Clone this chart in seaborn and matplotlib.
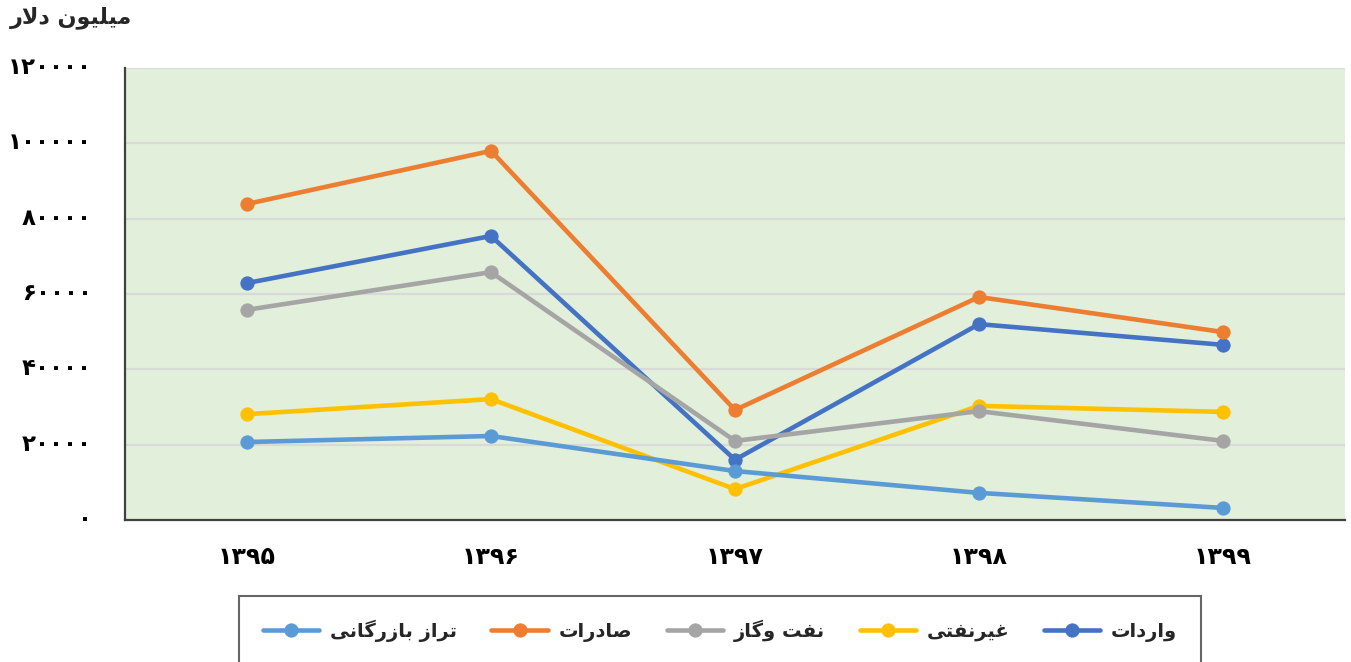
import matplotlib
matplotlib.use("Agg")
import matplotlib.pyplot as plt
import matplotlib.transforms as mtransforms
import seaborn as sns
import pandas as pd

# ---- data (million dollars) ----
years = ["1395", "1396", "1397", "1398", "1399"]
imports_vals = [62900, 75400, 16000, 52000, 46500]        # واردات
non_oil_vals = [28100, 32100, 8200, 30300, 28700]          # غیرنفتی
oil_gas_vals = [55800, 65800, 21000, 28900, 21000]         # نفت وگاز
exports_vals = [83900, 98000, 29200, 59200, 49900]         # صادرات
balance_vals = [20700, 22300, 13000, 7200, 3200]           # تراز بازرگانی

series_names = ["واردات", "غیرنفتی", "نفت وگاز", "صادرات", "تراز بازرگانی"]
series_colors = ["#4472C4", "#FFC000", "#A5A5A5", "#ED7D31", "#5B9BD5"]
y_ticks = [0, 20000, 40000, 60000, 80000, 100000, 120000]
y_title = "میلیون دلار"

# ---- minimal Arabic-script shaping (contextual forms + RTL order) ----
_FORMS = {
    "ا": ("\uFE8D", "\uFE8E", None, None),
    "ب": ("\uFE8F", "\uFE90", "\uFE91", "\uFE92"),
    "ت": ("\uFE95", "\uFE96", "\uFE97", "\uFE98"),
    "د": ("\uFEA9", "\uFEAA", None, None),
    "ر": ("\uFEAD", "\uFEAE", None, None),
    "ز": ("\uFEAF", "\uFEB0", None, None),
    "ص": ("\uFEB9", "\uFEBA", "\uFEBB", "\uFEBC"),
    "غ": ("\uFECD", "\uFECE", "\uFECF", "\uFED0"),
    "ف": ("\uFED1", "\uFED2", "\uFED3", "\uFED4"),
    "ل": ("\uFEDD", "\uFEDE", "\uFEDF", "\uFEE0"),
    "م": ("\uFEE1", "\uFEE2", "\uFEE3", "\uFEE4"),
    "ن": ("\uFEE5", "\uFEE6", "\uFEE7", "\uFEE8"),
    "و": ("\uFEED", "\uFEEE", None, None),
    "ی": ("\uFBFC", "\uFBFD", "\uFBFE", "\uFBFF"),
    "گ": ("\uFB92", "\uFB93", "\uFB94", "\uFB95"),
}


def _joins_left(ch):
    return ch in _FORMS and _FORMS[ch][2] is not None


def shape(text):
    out = []
    i = 0
    n = len(text)
    while i < n:
        c = text[i]
        if c not in _FORMS:
            out.append(c)
            i += 1
            continue
        prev = text[i - 1] if i > 0 else None
        nxt = text[i + 1] if i + 1 < n else None
        jp = prev is not None and _joins_left(prev)
        if c == "ل" and nxt == "ا":
            out.append("\uFEFC" if jp else "\uFEFB")
            i += 2
            continue
        jn = _joins_left(c) and nxt in _FORMS
        iso, fin, ini, med = _FORMS[c]
        if jp and jn:
            out.append(med)
        elif jp:
            out.append(fin)
        elif jn:
            out.append(ini)
        else:
            out.append(iso)
        i += 1
    return "".join(reversed(out))


_FA_DIGITS = str.maketrans("0123456789", "۰۱۲۳۴۵۶۷۸۹")


def fa_num(v):
    return str(v).translate(_FA_DIGITS)


# ---- long-form table ----
values = [imports_vals, non_oil_vals, oil_gas_vals, exports_vals, balance_vals]
rows = []
for name, vals in zip(series_names, values):
    for k, v in enumerate(vals):
        rows.append({"pos": k, "series": name, "value": v})
df = pd.DataFrame(rows)

sns.set_theme(style="white")
plt.rcParams["font.family"] = ["DejaVu Sans"]
plt.rcParams["font.weight"] = "bold"

fig = plt.figure(figsize=(13.51, 6.62), dpi=100)
ax = fig.add_axes([125 / 1351, 142 / 662, 1220 / 1351, 452 / 662])
ax.set_facecolor("#E2EFDA")

handles = {}
for name, color in zip(series_names, series_colors):
    sub = df[df["series"] == name]
    sns.lineplot(data=sub, x="pos", y="value", ax=ax, color=color,
                 linewidth=3.3, marker="o", markersize=9.5,
                 markeredgecolor=color, label=shape(name), legend=False)
    handles[name] = ax.lines[-1]

ax.set_xlim(-0.5, len(years) - 0.5)
ax.set_ylim(0, 120000)
ax.set_xticks(range(len(years)))
ax.set_xticklabels([fa_num(y) for y in years], fontsize=17, fontweight="bold")
ax.set_yticks(y_ticks)
ax.set_yticklabels([fa_num(v) for v in y_ticks], fontsize=16.5, fontweight="bold")
ax.tick_params(axis="both", length=0, colors="black")
ax.tick_params(axis="x", pad=18)
ax.tick_params(axis="y", pad=24)
# nudge the value labels slightly upward
lift = mtransforms.ScaledTranslation(0, 3 / 100, fig.dpi_scale_trans)
for lbl in ax.get_yticklabels():
    lbl.set_transform(lbl.get_transform() + lift)
ax.set_xlabel("")
ax.set_ylabel("")
ax.grid(axis="y", color="#D9D9D9", linewidth=1.6)
ax.set_axisbelow(True)
for side in ["top", "right"]:
    ax.spines[side].set_visible(False)
for side in ["left", "bottom"]:
    ax.spines[side].set_color("#404040")
    ax.spines[side].set_linewidth(1.6)

fig.text(10 / 1351, 1 - 18 / 662, shape(y_title), fontsize=16,
         fontweight="bold", ha="left", va="center")

order = ["تراز بازرگانی", "صادرات", "نفت وگاز", "غیرنفتی", "واردات"]
leg = fig.legend([handles[n] for n in order], [shape(n) for n in order],
                 loc="upper center", bbox_to_anchor=(720 / 1351, 1 - 596 / 662),
                 ncol=5, frameon=True, fancybox=False, fontsize=14,
                 handlelength=2.9, columnspacing=1.78, borderpad=1.2,
                 handletextpad=0.55, borderaxespad=0)
leg.get_frame().set_edgecolor("#404040")
leg.get_frame().set_linewidth(1.5)
for t in leg.get_texts():
    t.set_fontweight("bold")

fig.savefig("out.png", dpi=100)
